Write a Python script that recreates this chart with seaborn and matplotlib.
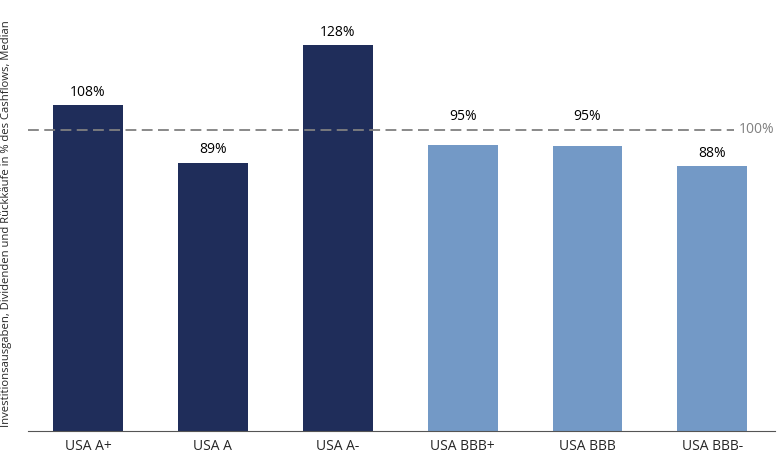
import matplotlib
matplotlib.use("Agg")
import matplotlib.pyplot as plt
import seaborn as sns
import pandas as pd

categories = ["USA A+", "USA A", "USA A-", "USA BBB+", "USA BBB", "USA BBB-"]
values = [108, 89, 128, 95, 94.7, 87.8]
labels = ["108%", "89%", "128%", "95%", "95%", "88%"]
colors = ["#1f2d5a", "#1f2d5a", "#1f2d5a", "#7399c6", "#7399c6", "#7399c6"]

sns.set_style("white")
plt.rcParams["font.family"] = ["Open Sans", "DejaVu Sans"]

fig = plt.figure(figsize=(7.81, 4.73), dpi=100)
ax = fig.add_axes([0.036, 0.089, 0.956, 0.911])
df = pd.DataFrame({"cat": categories, "val": values})
sns.barplot(data=df, x="cat", y="val", hue="cat", palette=colors, legend=False,
            width=0.56, saturation=1, linewidth=0, ax=ax)
for i, (v, l) in enumerate(zip(values, labels)):
    y = 102 if 92 < v < 100 else v + 1.8
    ax.text(i, y, l, ha="center", va="bottom", fontsize=10, color="black")
ax.axhline(100, xmin=0, xmax=0.946, color="#808080", linestyle=(0, (6, 3)), linewidth=1.3)
ax.text(5.5, 100, "100%", ha="right", va="center", fontsize=10, color="#808080")
ax.set_ylim(0, 143)
ax.set_xlim(-0.48, 5.5)
ax.set_yticks([])
ax.set_xlabel("")
ax.set_ylabel("Investitionsausgaben, Dividenden und Rückkäufe in % des Cashflows, Median",
              fontsize=8.1, labelpad=4)
ax.yaxis.set_label_coords(-0.022, 0.48)
for s in ["top", "right", "left"]:
    ax.spines[s].set_visible(False)
ax.spines["bottom"].set_color("#555555")
ax.tick_params(axis="x", length=0, labelsize=10, pad=6)
fig.savefig("out.png", dpi=100)
